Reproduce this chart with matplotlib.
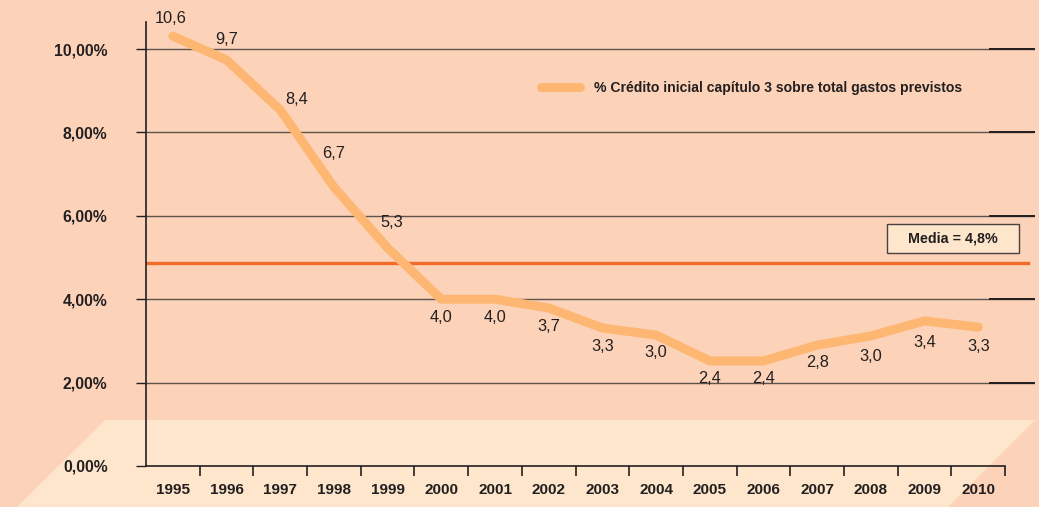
import matplotlib
matplotlib.use("Agg")
from matplotlib import pyplot as plt
from matplotlib.patches import Polygon, Rectangle

# data
years = ["1995", "1996", "1997", "1998", "1999", "2000", "2001", "2002",
         "2003", "2004", "2005", "2006", "2007", "2008", "2009", "2010"]
pct = [10.31, 9.74, 8.54, 6.69, 5.23, 4.0, 4.0, 3.79,
       3.31, 3.14, 2.52, 2.52, 2.90, 3.12, 3.48, 3.33]
point_labels = ["10,6", "9,7", "8,4", "6,7", "5,3", "4,0", "4,0", "3,7",
                "3,3", "3,0", "2,4", "2,4", "2,8", "3,0", "3,4", "3,3"]
media = 4.87
media_label = "Media = 4,8%"
series_name = "% Crédito inicial capítulo 3 sobre total gastos previstos"
yticks = [0, 2, 4, 6, 8, 10]
ytick_labels = ["0,00%", "2,00%", "4,00%", "6,00%", "8,00%", "10,00%"]

# label offsets in pixels (layout only)
label_offsets = [(-2, 18), (0, 20), (16, 10), (0, 34), (4, 25), (0, -18), (0, -18), (0, -19),
                 (0, -18), (0, -17), (0, -18), (0, -18), (0, -17), (0, -21), (0, -22), (0, -19)]

bg = "#FCD2B9"
floor = "#FDE6CB"
line_col = "#FDB772"
media_col = "#F26B28"
dark = "#231F20"
grid_col = "#5E524D"

plt.rcParams['font.family'] = ['Liberation Sans', 'DejaVu Sans']

W, H = 1039, 507
fig = plt.figure(figsize=(W / 100, H / 100), dpi=100, facecolor=bg)

# light "floor" behind the plot
floor_pts = [(17 / W, 0), (105 / W, 1 - 420 / H), (1035 / W, 1 - 420 / H), (948 / W, 0)]
fig.patches.append(Polygon(floor_pts, closed=True, transform=fig.transFigure,
                           facecolor=floor, edgecolor="none", zorder=-5))

ax = fig.add_axes([146 / W, 1 - 466 / H, 889 / W, 444 / H])
ax.set_zorder(2)
ax.patch.set_alpha(0)

n = len(years)
xs = [i + 0.5 for i in range(n)]
ax.set_xlim(0, 16.555)
ax.set_ylim(0, 10.65)

# gridlines
for y in yticks[1:]:
    ax.axhline(y, xmin=0, xmax=1, color=grid_col, lw=1.0, zorder=1)
    ax.axhline(y, xmin=(990 - 146) / 889, xmax=1, color=dark, lw=1.4, zorder=1)

ax.axhline(media, xmin=0, xmax=(1028 - 146) / 889, color=media_col, lw=2.4, zorder=2)

ax.plot(xs, pct, color=line_col, lw=6.5, solid_capstyle="round", solid_joinstyle="round",
        zorder=3, label=series_name)

for x, v, lab, off in zip(xs, pct, point_labels, label_offsets):
    ax.annotate(lab, (x, v), xytext=off, textcoords="offset pixels", ha="center", va="center",
                fontsize=11.8, color=dark, annotation_clip=False, zorder=4)

# spines and ticks
for s in ["top", "right"]:
    ax.spines[s].set_visible(False)
ax.spines["left"].set_color(dark)
ax.spines["bottom"].set_color(dark)
ax.spines["left"].set_linewidth(1.2)
ax.spines["bottom"].set_linewidth(1.2)
ax.spines["bottom"].set_bounds(0, 16)

ax.set_yticks(yticks)
ax.set_yticklabels(ytick_labels, fontsize=11.3, fontweight="bold", color=dark)
ax.tick_params(axis="y", direction="out", length=7.2, width=1.0, color=dark, pad=20.5)

ax.set_xticks(xs)
ax.set_xticklabels(years, fontsize=11, fontweight="bold", color=dark)
ax.set_xticks(range(1, 17), minor=True)
ax.tick_params(axis="x", which="major", length=0, pad=12)
ax.tick_params(axis="x", which="minor", direction="out", length=7.2, width=1.2, color=dark)

# legend
leg = ax.legend(loc="center left", bbox_to_anchor=(541 / W, 1 - 88 / H), bbox_transform=fig.transFigure,
                frameon=False, handlelength=2.8, handletextpad=0.95, borderpad=0, borderaxespad=0,
                prop={"size": 10.1, "weight": "bold"})
for t in leg.get_texts():
    t.set_color(dark)

# media box
ax.add_patch(Rectangle(((887 - 146) / 889, (466 - 253) / 444), 132 / 889, 29 / 444,
                       transform=ax.transAxes, facecolor=floor, edgecolor="#4A4240", lw=1.0,
                       clip_on=False, zorder=5))
ax.text((953 - 146) / 889, (466 - 238.5) / 444, media_label, transform=ax.transAxes,
        ha="center", va="center", fontsize=10.3, fontweight="bold", color=dark, zorder=6)

fig.savefig("out.png", dpi=100, facecolor=bg)
